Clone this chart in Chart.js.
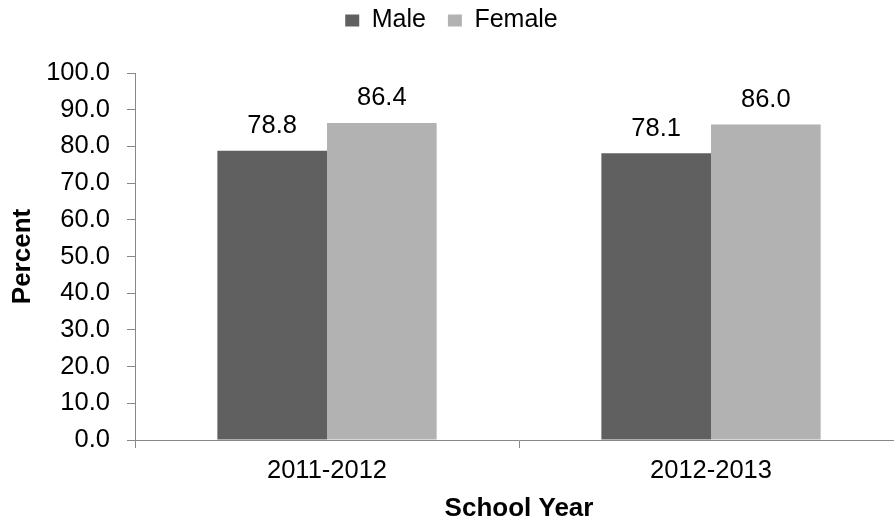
<!DOCTYPE html>
<html><head><meta charset="utf-8">
<script src="https://cdn.jsdelivr.net/npm/chart.js@4.4.0/dist/chart.umd.min.js"></script>
<style>html,body{margin:0;padding:0;background:#fff;overflow:hidden;width:894px;height:524px}
#wrap{width:904px;height:524px}</style></head>
<body><div id="wrap"><canvas id="c" width="904" height="524"></canvas></div>
<script>
const categories = ['2011-2012', '2012-2013'];
const seriesNames = ['Male', 'Female'];
const maleValues = [78.8, 78.1];
const femaleValues = [86.4, 86.0];
const yTickValues = [0, 10, 20, 30, 40, 50, 60, 70, 80, 90, 100];
const xTitle = 'School Year';
const yTitle = 'Percent';

const FONT = '"Liberation Sans", Arial, sans-serif';

const valueLabels = {
  id: 'valueLabels',
  afterDatasetsDraw(chart) {
    const ctx = chart.ctx;
    ctx.save();
    ctx.font = '25.5px ' + FONT;
    ctx.fillStyle = '#000';
    ctx.textAlign = 'center';
    ctx.textBaseline = 'alphabetic';
    chart.data.datasets.forEach((ds, i) => {
      chart.getDatasetMeta(i).data.forEach((bar, j) => {
        ctx.fillText(ds.data[j].toFixed(1), bar.x, bar.y - 17.5);
      });
    });
    ctx.restore();
  }
};

const legendHeight = {
  id: 'legendHeight',
  beforeInit(chart) {
    const lg = chart.legend;
    const orig = lg.fit;
    lg.fit = function () { orig.call(this); this.height = 87; };
  }
};

new Chart(document.getElementById('c'), {
  type: 'bar',
  data: {
    labels: categories,
    datasets: [
      { label: seriesNames[0], data: maleValues, backgroundColor: '#606060', barPercentage: 1, categoryPercentage: 0.571 },
      { label: seriesNames[1], data: femaleValues, backgroundColor: '#b2b2b2', barPercentage: 1, categoryPercentage: 0.571 }
    ]
  },
  options: {
    responsive: false,
    animation: false,
    devicePixelRatio: 1,
    layout: { padding: { top: -14, left: 0, right: 1, bottom: 0 } },
    plugins: {
      legend: {
        position: 'top',
        labels: { boxWidth: 14, boxHeight: 12, padding: 22, color: '#000', font: { family: FONT, size: 25 } }
      },
      tooltip: { enabled: false }
    },
    scales: {
      x: {
        grid: { offset: true, drawOnChartArea: false, tickLength: 8, color: '#888' },
        border: { color: '#888' },
        ticks: { color: '#000', font: { family: FONT, size: 25.5 }, padding: 8, maxRotation: 0 },
        title: { display: true, text: xTitle, color: '#000', font: { family: FONT, size: 26, weight: 'bold' }, padding: { top: 0, bottom: 0 } },
        afterFit(s) { s.height = 84; }
      },
      y: {
        min: 0, max: 100,
        afterBuildTicks(s) { s.ticks = yTickValues.map(v => ({ value: v })); },
        ticks: { color: '#000', font: { family: FONT, size: 25.5 }, padding: 17, callback: v => Number(v).toFixed(1) },
        grid: { drawOnChartArea: false, tickLength: 8, color: '#888' },
        border: { color: '#888' },
        title: { display: true, text: yTitle, color: '#000', font: { family: FONT, size: 26, weight: 'bold' }, padding: { top: 7, bottom: 0 } },
        afterFit(s) { s.width = 135; }
      }
    }
  },
  plugins: [legendHeight, valueLabels]
});
</script>
</body></html>
